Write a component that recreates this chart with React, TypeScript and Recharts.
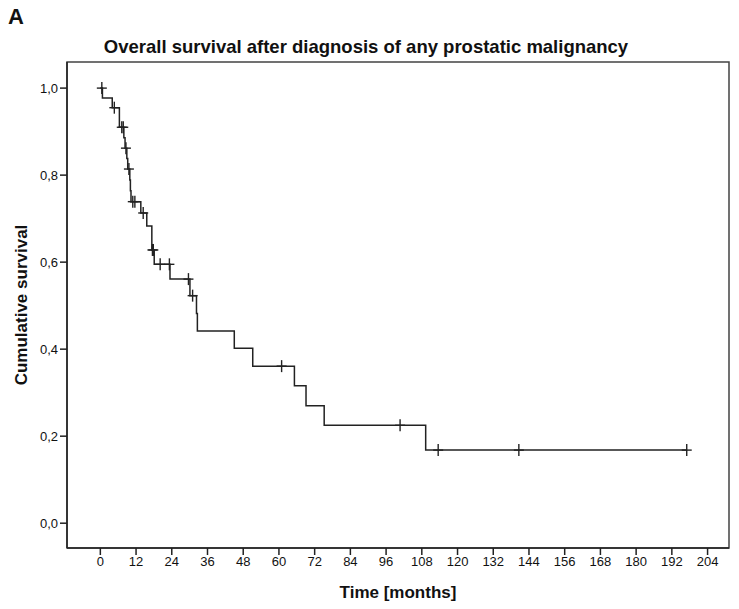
import { ComposedChart, Line, Scatter, XAxis, YAxis, ReferenceArea } from "recharts";

// Kaplan-Meier steps (months, cumulative survival)
const stepTimes = [0, 0.7, 4.0, 6.4, 7.9, 8.3, 8.9, 9.2, 9.9, 10.1, 10.3, 13.6, 15.6, 17.3, 18.1, 23.4, 30.1, 32.3, 32.6, 45.0, 51.2, 65.2, 69.1, 75.2, 109.3, 197];
const stepSurvival = [1.0, 0.977, 0.955, 0.91, 0.886, 0.862, 0.838, 0.814, 0.789, 0.764, 0.739, 0.713, 0.683, 0.628, 0.595, 0.561, 0.523, 0.482, 0.442, 0.402, 0.361, 0.316, 0.27, 0.225, 0.168, 0.168];

// censored observations
const censorTimes = [0.5, 4.7, 7.2, 7.7, 8.6, 9.6, 10.9, 11.6, 14.4, 17.5, 17.8, 20.1, 23.2, 29.6, 31.0, 60.9, 100.7, 113.5, 140.6, 197];
const censorSurvival = [1.0, 0.955, 0.91, 0.91, 0.862, 0.814, 0.739, 0.739, 0.713, 0.628, 0.628, 0.595, 0.595, 0.561, 0.523, 0.361, 0.225, 0.168, 0.168, 0.168];

const xTicks = [0, 12, 24, 36, 48, 60, 72, 84, 96, 108, 120, 132, 144, 156, 168, 180, 192, 204];
const yTicks = [0, 0.2, 0.4, 0.6, 0.8, 1.0];

const X_DOMAIN: [number, number] = [-11.2, 211.2];
const Y_DOMAIN: [number, number] = [-0.057, 1.06];

const ink = "#222";
const font = "'Liberation Sans Narrow', 'Liberation Sans', Arial, sans-serif";

function CensorMark(props: any) {
  const { cx, cy } = props;
  if (cx == null || cy == null) return null;
  return (
    <g stroke={ink} strokeWidth={1.4}>
      <line x1={cx - 5} y1={cy} x2={cx + 5} y2={cy} />
      <line x1={cx} y1={cy - 6} x2={cx} y2={cy + 6} />
    </g>
  );
}

export default function App() {
  const curve = stepTimes.map((t, i) => ({ t, s: stepSurvival[i] }));
  const censored = censorTimes.map((t, i) => ({ t, s: censorSurvival[i] }));
  const tickStyle = { fontSize: 13, fill: "#111", fontFamily: font };

  return (
    <div style={{ position: "absolute", left: 0, top: 0, width: 739, height: 609, background: "#fff", fontFamily: "Arial, 'Liberation Sans', sans-serif" }}>
      <div style={{ position: "absolute", left: 8, top: 4, fontSize: 22, fontWeight: "bold", color: "#111" }}>A</div>
      <div style={{ position: "absolute", left: 0, width: 732, top: 36, textAlign: "center", fontSize: 18.5, fontWeight: "bold", color: "#111" }}>
        Overall survival after diagnosis of any prostatic malignancy
      </div>
      <ComposedChart width={739} height={609} margin={{ top: 62, right: 10, bottom: 21, left: 0 }}>
        <XAxis
          type="number"
          dataKey="t"
          domain={X_DOMAIN}
          ticks={xTicks}
          allowDataOverflow
          height={40}
          tickSize={7}
          tickLine={{ stroke: ink, strokeWidth: 1.5 }}
          axisLine={{ stroke: ink, strokeWidth: 1.5 }}
          tick={tickStyle}
        />
        <YAxis
          type="number"
          dataKey="s"
          domain={Y_DOMAIN}
          ticks={yTicks}
          allowDataOverflow
          width={67}
          tickSize={7}
          tickLine={{ stroke: ink, strokeWidth: 1.5 }}
          axisLine={{ stroke: ink, strokeWidth: 1.5 }}
          tick={tickStyle}
          tickFormatter={(v: number) => v.toFixed(1).replace(".", ",")}
        />
        <ReferenceArea x1={X_DOMAIN[0]} x2={X_DOMAIN[1]} y1={Y_DOMAIN[0]} y2={Y_DOMAIN[1]} fill="none" stroke={ink} strokeWidth={1.5} strokeOpacity={0.85} />
        <Line data={curve} dataKey="s" type="stepAfter" stroke={ink} strokeWidth={1.5} dot={false} isAnimationActive={false} />
        <Scatter data={censored} dataKey="s" shape={<CensorMark />} isAnimationActive={false} />
      </ComposedChart>
      <div style={{ position: "absolute", left: 67, width: 662, top: 583, textAlign: "center", fontSize: 17, fontWeight: "bold", color: "#111" }}>
        Time [months]
      </div>
      <div
        style={{
          position: "absolute",
          left: 22,
          top: 305,
          transform: "translate(-50%, -50%) rotate(-90deg)",
          whiteSpace: "nowrap",
          fontSize: 17,
          fontWeight: "bold",
          color: "#111",
        }}
      >
        Cumulative survival
      </div>
    </div>
  );
}
